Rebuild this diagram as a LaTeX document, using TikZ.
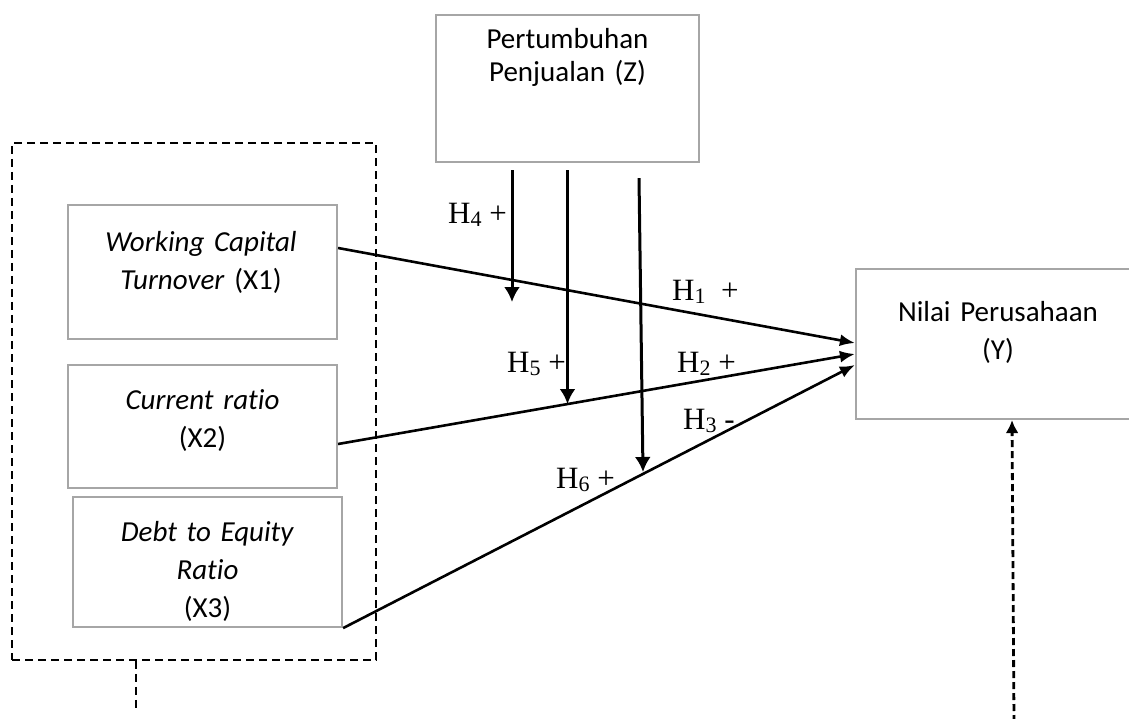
\documentclass[tikz,border=0pt]{standalone}
\usepackage{fontspec}
\setmainfont{Liberation Serif}
\newfontfamily\boxfont[Ligatures=NoCommon]{Carlito}
\usetikzlibrary{arrows.meta}
\newcommand\hsub[1]{\raisebox{-3pt}{\fontsize{22}{22}\selectfont #1}}
\begin{document}
\begin{tikzpicture}[x=1pt,y=-1pt,
  varbox/.style={draw=black!35, line width=2.2pt, inner sep=0pt},
  vartext/.style={font=\boxfont\fontsize{29}{38}\selectfont, text width=280pt, align=center, inner sep=0pt, anchor=base},
  hlabel/.style={font=\fontsize{31}{36}\selectfont, inner sep=0pt, anchor=base west},
  relarrow/.style={line width=2.6pt, -{Latex[length=15pt,width=12pt]}},
  modarrow/.style={line width=3pt, -{Latex[length=15pt,width=16pt]}},
  grpbox/.style={draw, line width=1.5pt, dash pattern=on 8pt off 5pt, inner sep=0pt},
  grpline/.style={line width=1.5pt, dash pattern=on 8pt off 5pt},
  effline/.style={line width=2.8pt, dash pattern=on 7pt off 4pt, -{Latex[length=13pt,width=13pt]}}
]
\useasboundingbox (0,0) rectangle (1129,719);

% group (dashed) box
\node[grpbox, minimum width=364pt, minimum height=517pt] (grp) at (194,401.5) {};

% variable boxes
\node[varbox, minimum width=263pt, minimum height=147pt] (z) at (567.5,88.5) {};
\node[varbox, minimum width=269pt, minimum height=134pt] (x1) at (202.5,272) {};
\node[varbox, minimum width=269pt, minimum height=123pt] (x2) at (202.5,426.5) {};
\node[varbox, minimum width=269pt, minimum height=130pt] (x3) at (207.5,562) {};
\node[varbox, minimum width=284pt, minimum height=150pt] (y) at (998,344) {};

% texts
\node[vartext, font=\boxfont\fontsize{29}{33}\selectfont] (zt) at ([yshift=-35pt]z.north) {Pertumbuhan\\Penjualan (Z)};
\node[vartext] (x1t) at ([xshift=-1.5pt,yshift=-48pt]x1.north) {\textit{Working Capital}\\\textit{Turnover} (X1)};
\node[vartext] (x2t) at ([yshift=-46pt]x2.north) {\textit{Current ratio}\\(X2)};
\node[vartext] (x3t) at ([yshift=-46pt]x3.north) {\textit{Debt to Equity}\\\textit{Ratio}\\(X3)};
\node[vartext] (yt) at ([yshift=-54pt]y.north) {Nilai Perusahaan\\(Y)};

% main relations
\draw[relarrow] ([yshift=24pt]x1.east) -- ([yshift=1pt]y.west);
\draw[relarrow] ([yshift=-17.5pt]x2.east) -- ([yshift=-10pt]y.west);
\draw[relarrow] (x3.south east) -- ([yshift=-21pt]y.west);

% moderating arrows
\coordinate (m4) at (512,302);
\coordinate (m5) at (567.5,404);
\coordinate (m6) at (643,472);
\draw[modarrow] ([xshift=-55.5pt,yshift=-7pt]z.south) -- (m4);
\draw[modarrow] ([yshift=-7pt]z.south) -- (m5);
\draw[modarrow] ([xshift=71.5pt,yshift=-15pt]z.south) -- (m6);

% dashed connectors
\coordinate (gend) at (136,710);
\draw[grpline] (grp.south -| gend) -- (gend);
\coordinate (ystart) at (1014,722);
\draw[effline] (ystart) -- ([xshift=14pt]y.south);

% labels
\node[hlabel] (h4) at (448,224) {H\hsub{4} +};
\node[hlabel] (h1) at (672,300) {H\hsub{1}~ +};
\node[hlabel] (h5) at (507,372) {H\hsub{5} +};
\node[hlabel] (h2) at (677,372) {H\hsub{2} +};
\node[hlabel] (h3) at (683,429) {H\hsub{3} -};
\node[hlabel] (h6) at (556,488) {H\hsub{6} +};
\end{tikzpicture}
\end{document}
